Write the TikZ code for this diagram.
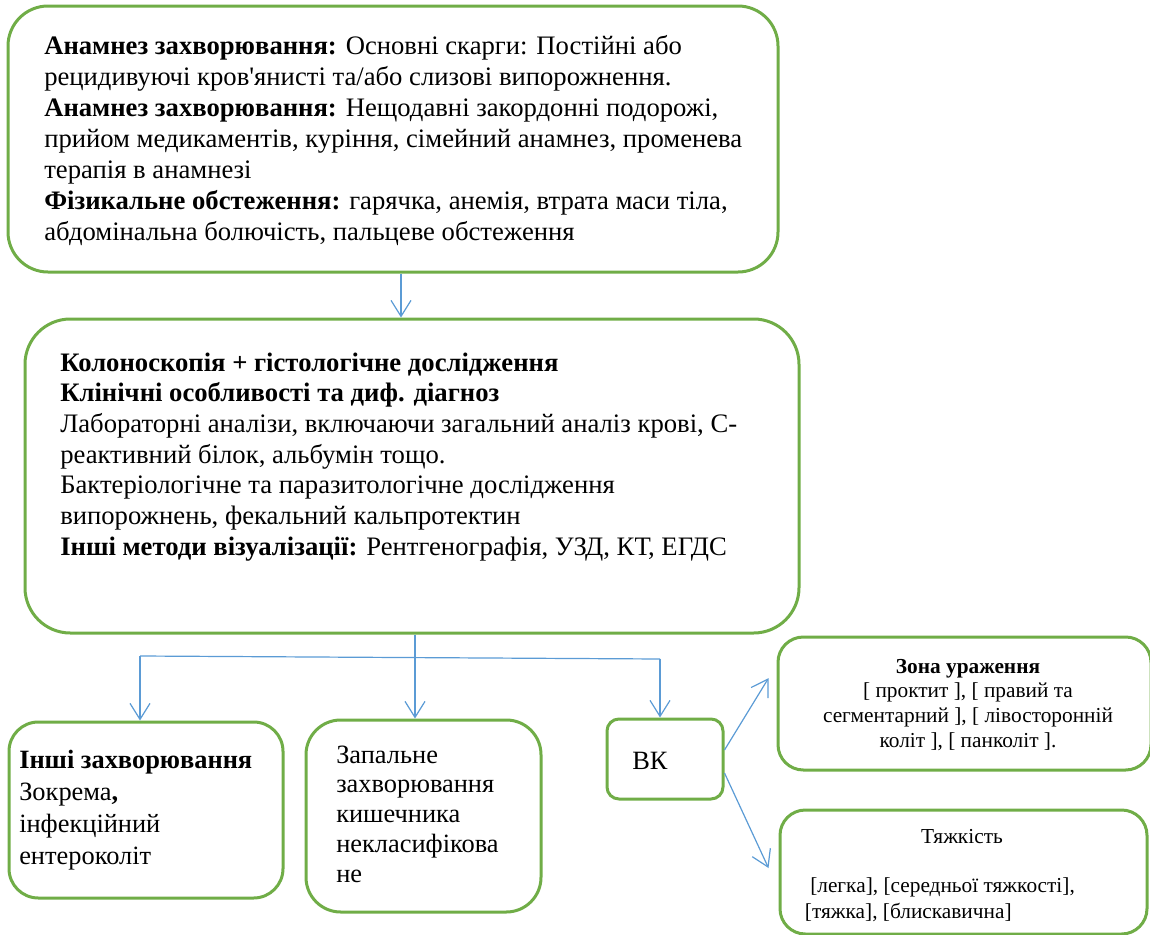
\documentclass[tikz,border=0pt]{standalone}
\usepackage{fontspec}
\setmainfont{Liberation Serif}
\usetikzlibrary{arrows.meta}
\definecolor{boxgreen}{HTML}{70AD47}
\definecolor{linkblue}{HTML}{5B9BD5}

\begin{document}
\begin{tikzpicture}[x=0.75pt,y=-0.75pt,
  box/.style={draw=boxgreen, line width=2.25pt, rounded corners=#1, inner sep=0pt},
  wire/.style={draw=linkblue, line width=0.9pt},
  link/.style={wire, -{Straight Barb[length=12pt,width=15pt]}},
  % multi-line texts are placed by the baseline of their last line
  txt/.style={inner sep=0pt, align=left, anchor=base west},
  big/.style={font=\fontsize{20pt}{23.25pt}\selectfont},
  mid/.style={font=\fontsize{19.8pt}{23.8pt}\selectfont},
  small/.style={font=\fontsize{16pt}{18.5pt}\selectfont},
]
\useasboundingbox (0,0) rectangle (1150,935);

% boxes
\node[box=30pt, minimum width=577.5pt, minimum height=199.5pt] (b1) at (393,139) {};
\node[box=34pt, minimum width=580.5pt, minimum height=235.5pt] (b2) at (412,476) {};
\node[box=22pt, minimum width=205.5pt, minimum height=132pt] (b3) at (146,810) {};
\node[box=26pt, minimum width=176.25pt, minimum height=144pt] (b4) at (423.5,816) {};
\node[box=9pt, minimum width=87pt, minimum height=60pt] (b5) at (665,759) {};
\node[box=19pt, minimum width=279.75pt, minimum height=99.75pt] (b6) at (964.5,703.5) {};
\node[box=19pt, minimum width=275.25pt, minimum height=93pt] (b7) at (963.5,872) {};

% texts
\node[txt, big] (t1) at (44,240) {%
\textbf{Анамнез захворювання:} Основні скарги: Постійні або\\
рецидивуючі кров\textquotesingle янисті та/або слизові випорожнення.\\
\textbf{Анамнез захворювання:} Нещодавні закордонні подорожі,\\
прийом медикаментів, куріння, сімейний анамнез, променева\\
терапія в анамнезі\\
\textbf{Фізикальне обстеження:} гарячка, анемія, втрата маси тіла,\\
абдомінальна болючість, пальцеве обстеження};

\node[txt, big, font=\fontsize{20pt}{23pt}\selectfont] (t2) at (60,555) {%
\textbf{Колоноскопія + гістологічне дослідження}\\
\textbf{Клінічні особливості та диф. діагноз}\\
Лабораторні аналізи, включаючи загальний аналіз крові, С-\\
реактивний білок, альбумін тощо.\\
Бактеріологічне та паразитологічне дослідження\\
випорожнень, фекальний кальпротектин\\
\textbf{Інші методи візуалізації:} Рентгенографія, УЗД, КТ, ЕГДС};

\node[txt, mid] (t3) at (19,864) {%
\textbf{Інші захворювання}\\
Зокрема\textbf{,}\\
інфекційний\\
ентероколіт};

\node[txt, mid, font=\fontsize{19.8pt}{22.3pt}\selectfont] (t4) at (336,882) {%
Запальне\\
захворювання\\
кишечника\\
некласифікова\\
не};

\node[txt, mid] (t5) at (632,769) {ВК};

\node[inner sep=0pt, align=center, anchor=base, small] (t6) at (968,747) {%
\textbf{Зона ураження}\\
{}[ проктит ], [ правий та\\
сегментарний ], [ лівосторонній\\
коліт ], [ панколіт ].};

\node[inner sep=0pt, anchor=base, small] (t7) at (962,843) {Тяжкість};
\node[txt, small, font=\fontsize{16pt}{19.5pt}\selectfont] (t8) at (810,918) {%
{}[легка], [середньої тяжкості],\\
\hspace*{-4pt}[тяжка], [блискавична]};

% connectors
\draw[link] ([xshift=6pt]b1.south) -- ([xshift=6pt]b1.south |- b2.north);
\draw[link] ([xshift=2.25pt]b2.south) -- ([xshift=2.25pt]b2.south |- b4.north);
\coordinate (hl) at (140,656);
\coordinate (hr) at (660,659);
\draw[wire] (hl) -- (hr);
\draw[link] (hl) -- (hl |- b3.north);
\draw[link] (hr) -- (hr |- b5.north);
\draw[link] ([yshift=6.75pt]b5.east) -- ([xshift=-6pt,yshift=19pt]b6.west);
\draw[link] ([yshift=-10.5pt]b5.east) -- ([xshift=-7.5pt,yshift=3pt]b7.west);
\end{tikzpicture}
\end{document}
